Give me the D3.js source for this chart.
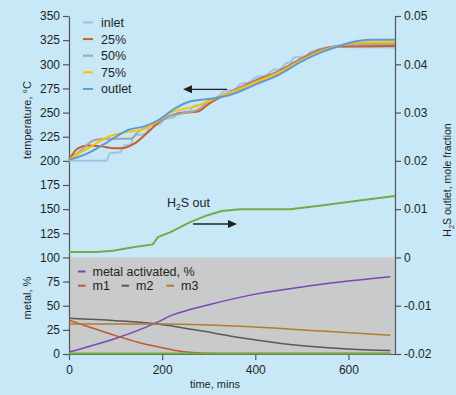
<!DOCTYPE html>
<html>
<head>
<meta charset="utf-8">
<script src="https://cdn.jsdelivr.net/npm/d3@7/dist/d3.min.js"></script>
<style>
  html, body { margin: 0; padding: 0; background: #c8e8f8; }
  svg { display: block; font-family: "Liberation Sans", Arial, sans-serif; }
  text { fill: #231f20; }
</style>
</head>
<body>
<svg id="chart" width="456" height="395"></svg>
<script>
// ---- data: temperature profiles (time in mins, temperature in °C) ----
const inlet = [[0,200],[80,200],[88,208],[110,209],[118,216],[132,217],[140,226],[165,228],[173,237],[195,238],[205,243],[225,245],[235,250],[258,251],[268,257],[292,258],[300,263.5],[313,264],[335,272.5],[353,273.5],[370,280],[385,281],[404,287],[421,288],[438,294],[453,295],[466,301],[475,302],[483,307],[505,308],[520,313],[535,315.5],[555,317.5],[575,318],[700,317.5]];
const bed25 = [[0,201],[19,213],[41,216],[69,215],[98,213],[112,213],[141,218],[170,230],[198,242],[234,249],[277,251],[300,259],[350,272],[400,283],[450,293],[500,306],[540,315],[570,318.5],[700,319]];
const bed50 = [[0,201],[26,211],[55,221.5],[84,223],[134,223],[148,230],[177,237],[213,246],[241,249],[277,253],[300,261],[350,272],[400,282],[450,292],[500,305],[540,314],[580,319.5],[620,321],[700,321]];
const bed75 = [[0,201],[19,207],[41,213],[84,225],[127,230],[155,232],[184,239],[213,249],[248,254],[277,257],[300,262],[350,271],[400,281],[450,291],[500,304],[540,313],[580,319],[620,322.5],[700,323]];
const outlet = [[0,201],[20,204],[41,208],[84,220],[127,232],[163,236],[191,242],[227,254],[256,261],[280,263],[300,264],[350,269],[400,279],[450,289],[500,303],[540,312],[580,319],[620,324],[650,325.5],[700,325.5]];

// ---- H2S at the outlet, mole fraction ----
const h2sOut = [[0,0.0011],[60,0.0011],[95,0.0014],[137,0.0021],[180,0.0027],[191,0.0042],[217,0.0052],[260,0.0073],[296,0.0087],[328,0.0096],[367,0.0100],[475,0.0100],[546,0.0108],[640,0.0120],[700,0.0127]];

// ---- metal state, % ----
const metalActivated = [[0,2],[190,33],[220,40],[260,46],[300,51],[400,62],[500,69.5],[600,75.5],[690,80]];
const m1 = [[0,35],[50,27],[100,19],[150,12],[190,7.5],[225,4],[265,1.5],[320,0.5],[690,0.5]];
const m2 = [[0,37],[100,34.5],[190,31],[270,25],[380,16],[480,9.5],[590,5.5],[690,3.5]];
const m3 = [[0,31],[200,31],[400,28],[550,23.5],[690,19.5]];
const m0 = [[0,0.5],[690,0.5]];

// ---- axes ticks ----
const timeTicks = [0, 200, 400, 600];
const tempTicks = [0, 25, 50, 75, 100, 125, 150, 175, 200, 225, 250, 275, 300, 325, 350];
const h2sTicks = [-0.02, -0.01, 0, 0.01, 0.02, 0.03, 0.04, 0.05];
const h2sTickLabels = ["-0.02", "-0.01", "0", "0.01", "0.02", "0.03", "0.04", "0.05"];

const tempNames = ["inlet", "25%", "50%", "75%", "outlet"];
const tempColors = ["#9dc3e6", "#c65f26", "#a5a5a5", "#ffc000", "#5b9bd5"];
const metalNames = ["metal activated, %", "m1", "m2", "m3"];
const metalColors = ["#7b45b8", "#c0582a", "#595959", "#ac7f2e"];

// ---- scales ----
const svg = d3.select("#chart");
const x = d3.scaleLinear().domain([0, 700]).range([69, 395]);
const yL = d3.scaleLinear().domain([0, 350]).range([354, 16]);
const yR = d3.scaleLinear().domain([-0.02, 0.05]).range([354, 16]);

// grey panel behind the metal curves (0–100 % band)
svg.append("rect")
  .attr("x", x(0)).attr("y", yL(100))
  .attr("width", x(700) - x(0)).attr("height", yL(0) - yL(100))
  .attr("fill", "#c9cacb");

// ---- axes ----
const axisColor = "#555";
function styleAxis(g) {
  g.selectAll("path, line").attr("stroke", axisColor).attr("stroke-width", 1.2);
  g.selectAll("text").attr("font-size", 12).attr("fill", "#231f20")
    .attr("font-family", "'Liberation Sans', Arial, sans-serif");
}
svg.append("g").attr("transform", `translate(${x(0)},0)`)
  .call(d3.axisLeft(yL).tickValues(tempTicks).tickSize(6).tickSizeOuter(0).tickPadding(3))
  .call(styleAxis);
svg.append("g").attr("transform", `translate(${x(700)},0)`)
  .call(d3.axisRight(yR).tickValues(h2sTicks).tickSize(6).tickSizeOuter(0).tickPadding(3)
    .tickFormat((d, i) => h2sTickLabels[i]))
  .call(styleAxis);
svg.append("g").attr("transform", `translate(0,${yL(0)})`)
  .call(d3.axisBottom(x).tickValues(timeTicks).tickSize(6).tickSizeOuter(0).tickPadding(5))
  .call(styleAxis);

// ---- axis titles ----
svg.append("text").attr("transform", "translate(31,120) rotate(-90)")
  .attr("text-anchor", "middle").attr("font-size", 11).text("temperature, °C");
svg.append("text").attr("transform", "translate(31,298) rotate(-90)")
  .attr("text-anchor", "middle").attr("font-size", 11).text("metal, %");
svg.append("text").attr("x", 215).attr("y", 388)
  .attr("text-anchor", "middle").attr("font-size", 11).text("time, mins");
const rt = svg.append("text").attr("transform", "translate(451,180) rotate(-90)")
  .attr("text-anchor", "middle").attr("font-size", 10.5);
rt.append("tspan").text("H");
rt.append("tspan").attr("font-size", 7.5).attr("dy", 3).text("2");
rt.append("tspan").attr("dy", -3).text("S outlet, mole fraction");

// ---- line generators ----
const lineL = d3.line().x(d => x(d[0])).y(d => yL(d[1])).curve(d3.curveMonotoneX);
const lineR = d3.line().x(d => x(d[0])).y(d => yR(d[1])).curve(d3.curveMonotoneX);

// metal curves
[metalActivated, m1, m2, m3].forEach((s, i) => {
  svg.append("path").datum(s).attr("d", lineL)
    .attr("fill", "none").attr("stroke", metalColors[i]).attr("stroke-width", 1.5);
});
svg.append("path").datum(m0).attr("d", lineL)
  .attr("fill", "none").attr("stroke", "#70ad47").attr("stroke-width", 2.2);

// H2S outlet curve
svg.append("path").datum(h2sOut).attr("d", d3.line().x(d => x(d[0])).y(d => yR(d[1])))
  .attr("fill", "none").attr("stroke", "#70ad47").attr("stroke-width", 2);

// temperature curves
[inlet, bed25, bed50, bed75, outlet].forEach((s, i) => {
  svg.append("path").datum(s).attr("d", lineL)
    .attr("fill", "none").attr("stroke", tempColors[i]).attr("stroke-width", 2)
    .attr("stroke-linejoin", "round");
});

// ---- temperature legend ----
const legT = svg.append("g");
tempNames.forEach((n, i) => {
  const cy = 22.5 + i * 16.6;
  legT.append("line").attr("x1", 83).attr("x2", 93).attr("y1", cy).attr("y2", cy)
    .attr("stroke", tempColors[i]).attr("stroke-width", 2);
  legT.append("text").attr("x", 101).attr("y", cy + 4.5).attr("font-size", 12.5).text(n);
});

// ---- metal legend ----
const metalLegendPos = [[78, 271.5], [78, 285.7], [121.5, 285.7], [166.5, 285.7]];
metalNames.forEach((n, i) => {
  const [lx, ly] = metalLegendPos[i];
  svg.append("line").attr("x1", lx).attr("x2", lx + 7.5).attr("y1", ly).attr("y2", ly)
    .attr("stroke", metalColors[i]).attr("stroke-width", 2);
  svg.append("text").attr("x", lx + 14.5).attr("y", ly + 4.5).attr("font-size", 12.5).text(n);
});

// ---- annotations ----
// arrow pointing to the temperature axis
svg.append("line").attr("x1", 227).attr("x2", 190).attr("y1", 89.3).attr("y2", 89.3)
  .attr("stroke", "#231f20").attr("stroke-width", 1.3);
svg.append("path").attr("d", "M183,89.3 L192,85.3 L192,93.3 Z").attr("fill", "#231f20");
// arrow pointing to the H2S axis
svg.append("line").attr("x1", 193).attr("x2", 230).attr("y1", 224).attr("y2", 224)
  .attr("stroke", "#231f20").attr("stroke-width", 1.3);
svg.append("path").attr("d", "M237,224 L228,220 L228,228 Z").attr("fill", "#231f20");

const h2sLabel = svg.append("text").attr("x", 167).attr("y", 206.5).attr("font-size", 12.5);
h2sLabel.append("tspan").text("H");
h2sLabel.append("tspan").attr("font-size", 8.5).attr("dy", 3.5).text("2");
h2sLabel.append("tspan").attr("dy", -3.5).text("S out");
</script>
</body>
</html>
